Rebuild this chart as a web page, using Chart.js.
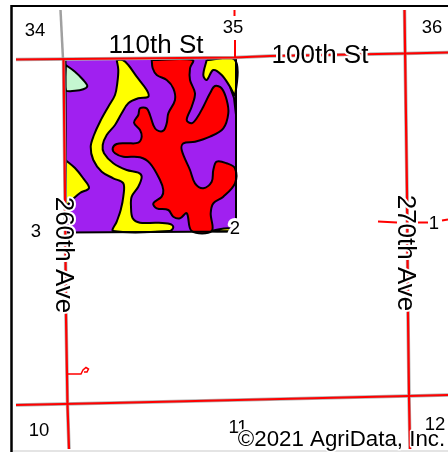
<!DOCTYPE html>
<html>
<head>
<meta charset="utf-8">
<style>
html, body { margin: 0; padding: 0; background: #fff; overflow: hidden; }
#mapChart { position: absolute; left: 0; top: 0; filter: blur(0.55px); }
</style>
<script src="https://cdn.jsdelivr.net/npm/chart.js@4"></script>
</head>
<body>
<canvas id="mapChart" width="448" height="452"></canvas>
<script>
// soil polygons as [x, y] on a 448 x 452 map grid
const fieldOutline = [[65.5,59],[236,58],[236,231.5],[66,232.5],[65.5,59]];
const greenSoil = [[65.7,65],[75,71.7],[83.3,80],[87.3,86],[83.3,89.3],[75,90.7],[65.7,90]];
const yellowStrip = [[116.7,60],[118.3,70],[117.3,83],[115,95],[108.3,106.7],[100,121.7],[94,135],[90.7,146.7],[93.3,160],[101.7,171.7],[113.3,178.3],[123.3,183.3],[123.3,196.7],[120.7,210],[116.7,221.7],[113.3,231],[170,231],[173.3,227],[170,224],[156.7,222.7],[140,222.7],[132.7,218.3],[131,206.7],[131.7,196.7],[138.3,186.7],[141.7,176.7],[138.3,172.7],[126.7,170],[113.3,163.3],[104,153.3],[102.7,145],[106.7,135],[115,125],[121.7,113.3],[128.3,103.3],[138.3,98.3],[148.3,96.7],[146.7,90],[136.7,76.7],[128.3,65],[122.7,60]];
const yellowWest = [[65.5,160],[75,168],[83,178],[89,188],[80,193],[72,200],[66,205]];
const yellowCorner = [[206.7,60],[203.3,75],[206.7,80],[213.3,70],[221.7,75],[230,86.7],[235,95],[235,60]];
const yellowSliver = [[213,230.5],[224,228.5],[230,228.5],[230,231],[213,231]];
const redSoil = [[151.7,60],[152.7,68.3],[156.7,75],[166.7,80],[173.3,88.3],[175,100],[168.3,113.3],[166.7,123.3],[163.3,130.7],[156.7,130],[153.3,125],[150,115],[146.7,108.3],[140,108.3],[138.3,115],[134,122.7],[140,130],[141.7,136.7],[138.3,142.7],[126.7,143.3],[116.7,144],[112.7,148.3],[115,153.3],[123.3,156.7],[140,157.3],[150,163.3],[160,180],[163.3,190],[161.7,196.7],[153.3,203.3],[156.7,208.3],[168.3,210],[173.3,216.7],[180,218.3],[186.7,213.3],[191.7,231],[211.7,231],[210.7,213.3],[213.3,203.3],[223.3,196.7],[235,183.3],[235,168.3],[226.7,163.3],[216.7,161.7],[213.3,170],[211.7,181.7],[203.3,188.3],[195,183.3],[190,170],[181.7,150],[183.3,143.3],[195,141.7],[210,136.7],[223.3,128.3],[228.3,113.3],[226.7,100],[221.7,88.3],[215,86],[210,93.3],[203.3,106.7],[196.7,118.3],[191.7,123.3],[186.7,120],[191.7,106.7],[195,93.3],[190,80],[190,68.3],[192.7,60]];
const soilSeam = [[230,87],[234,98],[236,115]];

// roads and section lines
const road100th = [[16,59.5],[235,57.5],[270,56],[405,53.5],[448,52.5]];
const roadSouth = [[16,405],[110,403],[408,396],[448,395]];
const road260North = [[60.5,10],[63,59]];
const road260 = [[63.5,59],[65,195],[66,316],[67.5,405],[69,449]];
const road270 = [[404.5,10],[407,193],[408,314],[409,396],[410,449]];
const sectionTick = [[234.5,10],[234.5,16]];
const sectionLine = [[235,40],[235,58]];
const dashWest = [[378,221.5],[397,222.5]];
const dashMid = [[418,222.5],[428,222.5]];
const dashEast = [[442,220.5],[448,219.5]];
const driveway = [[68,374],[81,374],[83,370],[86,367.5],[88.5,369],[87,372],[84,372]];

const frameLeft = [[11.5,5],[11.5,452]];
const frameTop = [[11,6],[448,6]];
const frameBottom = [[13,451],[448,451]];

// labels
const sectionNumbers = ['34', '35', '36', '3', '2', '1', '10', '11', '12'];
const sectionX = [35, 233, 432, 36, 235, 434, 39, 238, 435];
const sectionY = [31, 28, 28, 232, 229, 224, 431, 428, 425];
const roadNames = ['110th St', '100th St', '260th Ave', '270th Ave'];
const roadNameX = [156, 320, 63, 405];
const roadNameY = [46, 56, 255, 253];
const roadNameAngle = [0, 0, 90, 90];
const copyrightText = '©2021 AgriData, Inc.';

function toPoints(list) {
    return list.map(function (p) { return { x: p[0], y: p[1] }; });
}

function soil(list, color) {
    return {
        data: toPoints(list.concat([list[0]])),
        showLine: true,
        backgroundColor: color,
        borderColor: '#000',
        borderWidth: 2,
        fill: 'shape',
        tension: 0.35
    };
}

function line(list, color, width) {
    return {
        data: toPoints(list),
        showLine: true,
        borderColor: color,
        borderWidth: width,
        fill: false,
        tension: 0
    };
}

// painted bottom to top, order is set from this list below
const layers = [
    line(frameLeft, '#000', 2.5),
    line(frameTop, '#000', 2),
    line(frameBottom, '#e4e4e4', 2),
    Object.assign(soil(fieldOutline, '#a020f0'), { tension: 0, borderWidth: 0 }),
    soil(greenSoil, '#c4f7d0'),
    soil(yellowStrip, '#ffff00'),
    soil(yellowWest, '#ffff00'),
    soil(yellowCorner, '#ffff00'),
    soil(yellowSliver, '#ffff00'),
    soil(redSoil, '#ff0000'),
    line(soilSeam, '#000', 2),
    line(fieldOutline, '#000', 2),
    line(road100th, '#b0b0b0', 3.5),
    line(roadSouth, '#b0b0b0', 3.5),
    line(road260North, '#a0a0a0', 2.5),
    line(road260, '#b0b0b0', 3.5),
    line(road270, '#b0b0b0', 3.5),
    line(road100th, '#ff0000', 2.2),
    line(roadSouth, '#ff0000', 2.2),
    line(road260, '#ff0000', 2.2),
    line(road270, '#ff0000', 2.2),
    line(sectionTick, '#ff0000', 2),
    line(sectionLine, '#ff0000', 2),
    line(dashWest, '#ff0000', 2),
    line(dashMid, '#ff0000', 2),
    line(dashEast, '#ff0000', 2),
    line(driveway, '#ff0000', 1.5)
];
layers.forEach(function (d, i) { d.order = layers.length - i; });

const mapLabels = {
    id: 'mapLabels',
    afterDatasetsDraw: function (c) {
        const ctx = c.ctx;
        const sx = c.scales.x;
        const sy = c.scales.y;
        function put(text, x, y, angle, size, halo) {
            ctx.save();
            ctx.translate(sx.getPixelForValue(x), sy.getPixelForValue(y));
            ctx.rotate(angle * Math.PI / 180);
            ctx.font = size + 'px "Liberation Sans", Arial, sans-serif';
            ctx.textAlign = 'center';
            ctx.textBaseline = 'middle';
            ctx.lineJoin = 'round';
            ctx.strokeStyle = '#fff';
            ctx.lineWidth = halo;
            ctx.strokeText(text, 0, 0);
            ctx.fillStyle = '#000';
            ctx.fillText(text, 0, 0);
            ctx.restore();
        }
        sectionNumbers.forEach(function (t, i) {
            put(t, sectionX[i], sectionY[i], 0, 18.5, 6);
        });
        roadNames.forEach(function (t, i) {
            put(t, roadNameX[i], roadNameY[i], roadNameAngle[i], 26, 4);
        });
        put(copyrightText, 341.5, 440, 0, 22.3, 3);
    }
};

const config = {
    type: 'scatter',
    data: { datasets: layers },
    options: {
        responsive: false,
        animation: false,
        devicePixelRatio: 1,
        layout: { padding: 0 },
        elements: { point: { radius: 0 } },
        plugins: { legend: { display: false }, tooltip: { enabled: false } },
        scales: {
            x: { type: 'linear', min: 0, max: 448, display: false },
            y: { type: 'linear', min: 0, max: 452, reverse: true, display: false }
        }
    },
    plugins: [mapLabels]
};

window.addEventListener('load', function () {
    new Chart(document.getElementById('mapChart').getContext('2d'), config);
});
</script>
</body>
</html>
